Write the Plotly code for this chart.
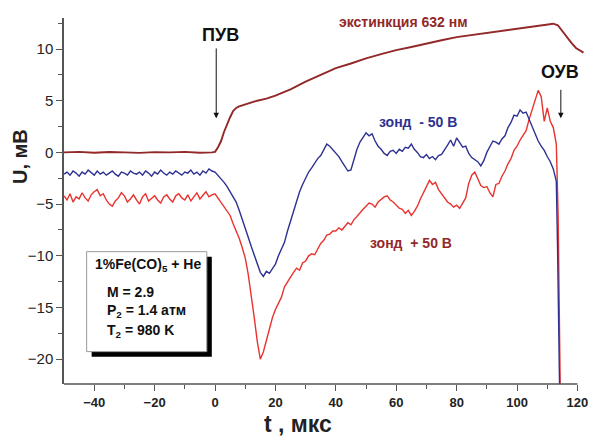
import plotly.graph_objects as go

# ---------------- data ----------------
probe_t = list(range(-50, 114))

probe_minus50 = [
    -2.1, -1.9, -2.2, -1.8, -2.0, -2.3, -1.9, -2.1, -1.7, -2.0,
    -2.2, -1.8, -2.1, -1.9, -2.2, -2.0, -1.8, -2.1, -2.3, -1.9,
    -2.0, -2.2, -1.8, -2.0, -2.1, -1.9, -2.2, -1.8, -2.0, -2.3,
    -1.9, -2.1, -1.7, -2.0, -2.2, -1.9, -2.1, -1.8, -2.0, -2.2,
    -1.9, -2.0, -1.7, -2.1, -1.9, -2.2, -1.8, -2.0, -1.6, -1.8,
    -1.9, -2.2, -2.6, -2.9, -3.3, -3.8, -4.3, -4.8, -5.6, -6.4,
    -7.3, -8.2, -9.1, -10.0, -10.9, -11.6, -12.0, -11.5, -11.7, -11.2,
    -10.8, -10.0, -9.3, -8.7, -7.6, -6.6, -5.7, -4.8, -3.8, -3.1,
    -2.5, -1.9, -1.5, -1.0, -0.6, -0.3, 0.3, 0.8, 0.6, 0.3,
    -0.1, -0.4, -0.9, -1.4, -1.8, -1.7, -0.6, 0.3, 1.0, 1.5,
    1.9, 1.6, 1.8, 1.1, 0.6, 0.3, -0.1, -0.3, 0.1,
    0.2, -0.1, 0.3, 0.1, 0.5, 0.4, 0.8, 0.3, 0.0, -0.4,
    -0.5, -0.2, -0.6, -0.4, -0.7, -0.3, -0.2, 0.2, 0.7, 1.2,
    0.6, 1.4, 1.0, 0.5, 0.6, -0.1, -0.5, -0.7, -0.9, -1.3,
    -0.8, 0.0, 0.5, 1.1, 1.0, 0.8,
    1.3, 1.6, 2.4, 2.9, 3.6, 3.5, 4.1, 3.8, 3.9, 3.2,
    2.6, 1.9, 1.1, 0.6, 0.2, -0.4, -0.9, -1.6, -2.8,
]
minus50_drop_t = [113.4, 113.8, 114.1]
minus50_drop_u = [-9.0, -17.0, -23.0]

probe_plus50 = [
    -4.2, -4.6, -4.0, -4.8, -4.3, -4.5, -3.9, -4.4, -4.7, -4.1,
    -3.8, -3.6, -4.2, -4.0, -4.6, -5.0, -5.2, -4.7, -4.4, -3.9,
    -4.2, -4.8, -4.5, -4.1, -4.6, -5.0, -4.3, -4.0, -4.7, -4.4,
    -4.2, -4.6, -4.9, -4.3, -4.1, -4.5, -4.8, -4.2, -4.0, -4.4,
    -4.6, -4.1, -4.7, -4.3, -3.9, -4.5, -4.2, -3.8, -4.3, -4.1,
    -4.0, -4.4, -4.8, -5.3, -5.7, -6.1, -6.9, -7.6, -8.3, -9.2,
    -10.2, -11.8, -13.8, -16.0, -18.3, -20.0, -19.3, -18.2, -17.0, -16.0,
    -15.2, -14.6, -14.0, -13.0, -12.5, -12.0, -11.6, -11.2, -11.4, -10.7,
    -10.5, -10.0, -9.8, -9.9, -9.3, -8.8, -8.5, -8.0, -7.9, -7.6,
    -7.6, -7.3, -7.5, -7.1, -6.8, -7.0, -6.5, -6.2, -5.8, -5.5,
    -5.2, -4.9, -5.0, -5.3, -4.8, -4.5, -4.3, -4.2, -4.6,
    -4.8, -5.1, -5.4, -5.5, -5.9, -5.6, -6.1, -5.7, -5.2, -4.5,
    -3.9, -3.2, -2.7, -3.1, -2.9, -3.6, -4.0, -4.4, -4.8, -5.0,
    -5.3, -5.1, -5.4, -4.9, -4.4, -3.0, -2.2, -1.9, -2.6, -3.2,
    -3.4, -3.3, -3.9, -4.3, -3.1, -3.0,
    -2.3, -1.8, -1.1, -0.6, 0.2, 0.6, 1.2, 1.6, 2.1, 3.2,
    4.2, 5.1, 6.0, 5.4, 3.0, 4.3, 3.0, 2.4, 0.8,
]
plus50_drop_t = [113.6, 114.0, 114.3]
plus50_drop_u = [-6.0, -14.0, -23.0]

ext_t = [-50, -45, -40, -35, -30, -25, -20, -15, -10, -5, -1, 0, 1, 2, 3, 4, 5, 6, 7, 8, 9, 10,
         12, 14, 17, 20, 25, 30, 35, 40, 45, 50, 55, 60, 65, 70, 75, 80, 85, 90, 95, 100,
         105, 110, 112, 113.5, 115, 116.5, 118, 119.5, 121, 122]
ext_u = [0.0, 0.05, -0.03, 0.04, 0.0, -0.05, 0.03, 0.0, 0.05, -0.03, 0.0, 0.05, 0.5, 1.1, 2.0, 2.8, 3.4, 4.0, 4.3, 4.45, 4.55, 4.65,
         4.85, 5.0, 5.2, 5.5, 6.1, 6.85, 7.5, 8.15, 8.6, 9.1, 9.5, 9.9, 10.2, 10.55, 10.85, 11.15, 11.35, 11.55, 11.8, 11.95,
         12.15, 12.35, 12.45, 12.3, 11.7, 11.1, 10.6, 10.1, 9.8, 9.65]

x_major = [-40, -20, 0, 20, 40, 60, 80, 100, 120]
x_minor = [-30, -10, 10, 30, 50, 70, 90, 110]
y_major = [-20, -15, -10, -5, 0, 5, 10]
y_minor = [-17.5, -12.5, -7.5, -2.5, 2.5, 7.5, 12.5]

FONT = "Liberation Sans, Arial, sans-serif"
BROWN = "#922828"
NAVY = "#2E3192"
RED = "#E8332E"

fig = go.Figure()
fig.add_trace(go.Scatter(x=ext_t, y=ext_u, mode="lines",
                         line=dict(color=BROWN, width=1.9), hoverinfo="skip"))
fig.add_trace(go.Scatter(x=probe_t + plus50_drop_t, y=probe_plus50 + plus50_drop_u, mode="lines",
                         line=dict(color=RED, width=1.4), hoverinfo="skip"))
fig.add_trace(go.Scatter(x=probe_t + minus50_drop_t, y=probe_minus50 + minus50_drop_u, mode="lines",
                         line=dict(color=NAVY, width=1.4), hoverinfo="skip"))

X0, X1 = -50, 122.5
Y0, Y1 = -22.4, 13
ML, MR, MT, MB = 64, 12, 18, 53
W, H = 597, 437
PW, PH = W - ML - MR, H - MT - MB

fig.update_layout(
    width=W, height=H,
    margin=dict(l=ML, r=MR, t=MT, b=MB),
    paper_bgcolor="white", plot_bgcolor="white",
    showlegend=False,
    font=dict(family=FONT, color="#222"),
    xaxis=dict(range=[X0, X1], showgrid=False, zeroline=False, showline=False, automargin=False,
               tickmode="array", tickvals=x_major, ticks="outside", ticklen=6,
               tickcolor="#555", tickwidth=1.3,
               tickfont=dict(size=13, family=FONT, color="#222", weight="bold"),
               minor=dict(tickmode="array", tickvals=x_minor, ticks="outside", ticklen=4,
                          tickcolor="#555", tickwidth=1.3, showgrid=False)),
    yaxis=dict(range=[Y0, Y1], showgrid=False, zeroline=False, showline=True, automargin=False,
               linecolor="#555", linewidth=1.5,
               tickmode="array", tickvals=y_major, ticks="outside", ticklen=6,
               tickcolor="#555", tickwidth=1.3,
               tickfont=dict(size=15, family=FONT, color="#222"),
               minor=dict(tickmode="array", tickvals=y_minor, ticks="outside", ticklen=4,
                          tickcolor="#555", tickwidth=1.3, showgrid=False)),
)

# axis titles
fig.add_annotation(x=(298 - ML) / PW, y=(H - MB - 424) / PH, xref="paper", yref="paper",
                   text="<b>t , мкс</b>", showarrow=False, xanchor="center", yanchor="middle",
                   font=dict(size=23, family=FONT, color="#222"))
fig.add_annotation(x=(20 - ML) / PW, y=(H - MB - 157) / PH, xref="paper", yref="paper",
                   text="<b>U, мВ</b>", showarrow=False, xanchor="center", yanchor="middle",
                   textangle=-90, font=dict(size=20, family=FONT, color="#222"))

# bottom axis line ends at 120
fig.add_shape(type="line", xref="paper", yref="paper",
              x0=0, x1=(120 - X0) / (X1 - X0), y0=0, y1=0,
              line=dict(color="#555", width=1.5))

# info box with shadow
fig.add_shape(type="rect", xref="x", yref="y", x0=-40.85, x1=-1.06, y0=-19.76, y1=-10.09,
              fillcolor="black", line=dict(width=0), layer="above")
fig.add_shape(type="rect", xref="x", yref="y", x0=-42.5, x1=-2.72, y0=-19.27, y1=-9.6,
              fillcolor="white", line=dict(color="#999", width=1), layer="above")

box_lines = [
    (-40.4, -10.9, "<b>1%Fe(CO)<sub>5</sub> + He</b>"),
    (-36.4, -13.5, "<b>M = 2.9</b>"),
    (-36.4, -15.3, "<b>P<sub>2</sub> = 1.4 атм</b>"),
    (-36.4, -17.3, "<b>T<sub>2</sub> = 980 K</b>"),
]
for bx, by, txt in box_lines:
    fig.add_annotation(x=bx, y=by, xref="x", yref="y", text=txt, showarrow=False,
                       xanchor="left", yanchor="middle",
                       font=dict(size=14, family=FONT, color="#111"))

labels = [
    (62.3, 12.6, "<b>экстинкция 632 нм</b>", BROWN, 14),
    (67.3, 2.9, "<b>зонд  - 50 В</b>", NAVY, 14),
    (65.0, -8.8, "<b>зонд  + 50 В</b>", BROWN, 14),
    (1.7, 11.4, "<b>ПУВ</b>", "#111", 18),
    (114.3, 7.8, "<b>ОУВ</b>", "#111", 18),
]
for lx, ly, txt, col, sz in labels:
    fig.add_annotation(x=lx, y=ly, xref="x", yref="y", text=txt, showarrow=False,
                       xanchor="center", yanchor="middle",
                       font=dict(size=sz, family=FONT, color=col))

# arrows
for axv, ayv, hx, hy in [(0.4, 10.2, 0.4, 3.3), (114.5, 6.2, 114.5, 3.3)]:
    fig.add_annotation(x=hx, y=hy, ax=axv, ay=ayv, xref="x", yref="y", axref="x", ayref="y",
                       text="", showarrow=True, arrowhead=2, arrowsize=1.1,
                       arrowwidth=1, arrowcolor="#111")

fig.write_html("out.html")
